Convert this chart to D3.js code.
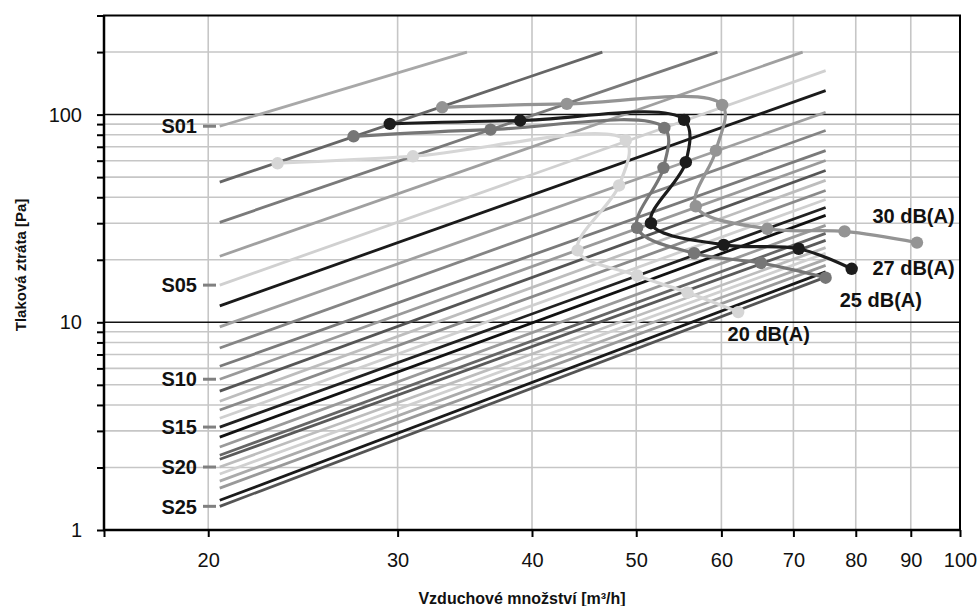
<!DOCTYPE html>
<html>
<head>
<meta charset="utf-8">
<script src="https://cdn.jsdelivr.net/npm/d3@7/dist/d3.min.js"></script>
<style>
  html, body { margin: 0; padding: 0; background: #fff; }
  svg { display: block; font-family: "Liberation Sans", Arial, sans-serif; }
</style>
</head>
<body>
<svg id="chart" width="978" height="606"></svg>
<script>
// ---------- data ----------
const xTickValues = [20, 30, 40, 50, 60, 70, 80, 90, 100];
const yLabelValues = [1, 10, 100];
const yMinorValues = [2, 3, 4, 5, 6, 7, 8, 9, 20, 30, 40, 50, 60, 70, 80, 90, 200];
const yMajorValues = [10, 100];

// settings lines S01..S25 (airflow m3/h, pressure Pa)
const settingNames = ["S01","S02","S03","S04","S05","S06","S07","S08","S09","S10",
  "S11","S12","S13","S14","S15","S16","S17","S18","S19","S20","S21","S22","S23","S24","S25"];
const settingLabelled = ["S01","S05","S10","S15","S20","S25"];
const settingStartQ = [20.5,20.5,20.5,20.5,20.5,20.5,20.5,20.5,20.5,20.5,20.5,20.5,20.5,
  20.5,20.5,20.5,20.5,20.5,20.5,20.5,20.5,20.5,20.5,20.5,20.5];
const settingStartP = [87.9,47.3,30.3,20.8,15.1,12.0,9.5,7.52,6.14,5.32,4.66,4.17,3.78,
  3.45,3.13,2.80,2.51,2.29,2.19,2.01,1.86,1.72,1.59,1.39,1.30];
const settingEndQ = [34.8,46.5,59.5,71.4,75,75,75,75,75,75,75,75,75,75,75,75,75,75,75,75,75,75,75,75,75];
const settingEndP = [200,200,200,200,162.7,130.4,102.6,83.8,67.1,60.1,53.8,48.2,43.1,
  39.0,35.7,32.7,29.3,26.8,24.8,22.9,21.5,20.1,18.8,17.5,16.5];

// noise curves
const noiseNames = ["30 dB(A)", "27 dB(A)", "25 dB(A)", "20 dB(A)"];
const noise30Q = [33.0, 43.1, 60.1, 59.3, 56.8, 66.2, 78.1, 91.2];
const noise30P = [108.4, 112.6, 111.3, 67.1, 36.2, 28.2, 27.4, 24.2];
const noise27Q = [29.5, 39.0, 55.4, 55.6, 51.6, 60.3, 70.8, 79.3];
const noise27P = [90.2, 93.6, 94.3, 59.0, 30.0, 23.6, 22.6, 18.1];
const noise25Q = [27.3, 36.6, 53.1, 53.0, 50.1, 56.6, 65.3, 75.0];
const noise25P = [78.6, 84.7, 86.3, 55.4, 28.5, 21.5, 19.3, 16.4];
const noise20Q = [23.2, 31.0, 48.9, 48.2, 44.1, 50.1, 55.8, 62.2];
const noise20P = [58.3, 63.0, 75.2, 45.6, 22.2, 16.8, 13.9, 11.2];
const noiseLabelQ = [82.9, 82.9, 77.3, 60.8];
const noiseLabelP = [32.7, 18.2, 12.9, 8.85];

// ---------- styles ----------
const settingColors = ["#a8a8a8","#666666","#7a7a7a","#a0a0a0","#d0d0d0","#1a1a1a","#a0a0a0",
  "#858585","#7a7a7a","#9a9a9a","#555555","#bdbdbd","#8a8a8a","#cfcfcf","#222222","#111111",
  "#9a9a9a","#666666","#5a5a5a","#bdbdbd","#d0d0d0","#ababab","#999999","#1a1a1a","#555555"];
const noiseColors = ["#949494", "#1c1c1c", "#767676", "#d6d6d6"];

// ---------- scales ----------
const svg = d3.select("#chart");
svg.append("rect").attr("width", 978).attr("height", 606).attr("fill", "#fff");

const x = d3.scaleLog().domain([16, 100]).range([104, 960]);
const y = d3.scaleLog().domain([1, 300]).range([530, 15.5]);
const L = 104, R = 960, T = 15.5, B = 530;

// grid
const grid = svg.append("g");
grid.selectAll(".vg").data(xTickValues.slice(0, -1)).enter().append("line")
  .attr("x1", d => x(d)).attr("x2", d => x(d)).attr("y1", T).attr("y2", B)
  .attr("stroke", "#c6c6c6").attr("stroke-width", 1.6);
grid.selectAll(".hg").data(yMinorValues).enter().append("line")
  .attr("x1", L).attr("x2", R).attr("y1", d => y(d)).attr("y2", d => y(d))
  .attr("stroke", "#c6c6c6").attr("stroke-width", 1.6);
grid.selectAll(".hm").data(yMajorValues).enter().append("line")
  .attr("x1", L).attr("x2", R).attr("y1", d => y(d)).attr("y2", d => y(d))
  .attr("stroke", "#111").attr("stroke-width", 1.5);

// axes
const yAxis = d3.axisLeft(y)
  .tickValues([1, ...yMinorValues, 10, 100, 300])
  .tickSize(7).tickPadding(15)
  .tickFormat(d => yLabelValues.includes(d) ? String(d) : "");
const gy = svg.append("g").attr("transform", `translate(${L},0)`).call(yAxis);
const xAxis = d3.axisBottom(x)
  .tickValues([16, ...xTickValues])
  .tickSize(7).tickPadding(16)
  .tickFormat(d => xTickValues.includes(d) ? String(d) : "");
const gx = svg.append("g").attr("transform", `translate(0,${B})`).call(xAxis);
[gx, gy].forEach(g => {
  g.select(".domain").remove();
  g.selectAll(".tick line").attr("stroke", "#000").attr("stroke-width", 2);
  g.selectAll("text").attr("font-size", 20).attr("fill", "#111")
    .attr("font-family", "'Liberation Sans', Arial, sans-serif");
});

// frame
svg.append("rect").attr("x", L).attr("y", T).attr("width", R - L).attr("height", B - T)
  .attr("fill", "none").attr("stroke", "#000").attr("stroke-width", 2);
svg.append("line").attr("x1", L).attr("x2", L).attr("y1", T).attr("y2", B + 1)
  .attr("stroke", "#000").attr("stroke-width", 2.5);
svg.append("line").attr("x1", L - 1).attr("x2", R).attr("y1", B).attr("y2", B)
  .attr("stroke", "#000").attr("stroke-width", 2.5);

// setting lines
const settings = settingNames.map((n, i) => ({
  name: n, color: settingColors[i],
  pts: [[settingStartQ[i], settingStartP[i]], [settingEndQ[i], settingEndP[i]]]
}));
const lineGen = d3.line().x(d => x(d[0])).y(d => y(d[1]));
svg.append("g").selectAll("path").data(settings).enter().append("path")
  .attr("d", d => lineGen(d.pts))
  .attr("fill", "none").attr("stroke", d => d.color).attr("stroke-width", 2.8);

// setting labels
const labelled = settings.filter(s => settingLabelled.includes(s.name));
const sl = svg.append("g");
sl.selectAll("line").data(labelled).enter().append("line")
  .attr("x1", 203).attr("x2", 216)
  .attr("y1", d => y(d.pts[0][1])).attr("y2", d => y(d.pts[0][1]))
  .attr("stroke", "#808080").attr("stroke-width", 3);
sl.selectAll("text").data(labelled).enter().append("text")
  .attr("x", 197).attr("y", d => y(d.pts[0][1]))
  .attr("dy", "0.36em").attr("text-anchor", "end")
  .attr("font-size", 20).attr("font-weight", "bold").attr("fill", "#111")
  .text(d => d.name);

// noise curves
const noiseQ = [noise30Q, noise27Q, noise25Q, noise20Q];
const noiseP = [noise30P, noise27P, noise25P, noise20P];
const noise = noiseNames.map((n, i) => ({
  name: n, color: noiseColors[i],
  pts: noiseQ[i].map((q, j) => [q, noiseP[i][j]]),
  lq: noiseLabelQ[i], lp: noiseLabelP[i]
}));
const curveGen = d3.line().x(d => x(d[0])).y(d => y(d[1])).curve(d3.curveCatmullRom.alpha(0.5));
const ng = svg.append("g");
// draw from back: 20, 25, 30, 27 order similar to reference
const drawOrder = [3, 2, 0, 1];
drawOrder.forEach(i => {
  const s = noise[i];
  const g = ng.append("g");
  g.append("path").attr("d", curveGen(s.pts)).attr("fill", "none")
    .attr("stroke", s.color).attr("stroke-width", 3.2);
  g.selectAll("circle").data(s.pts).enter().append("circle")
    .attr("cx", d => x(d[0])).attr("cy", d => y(d[1])).attr("r", 6.2)
    .attr("fill", s.color);
});
ng.selectAll("text").data(noise).enter().append("text")
  .attr("x", d => x(d.lq)).attr("y", d => y(d.lp)).attr("dy", "0.36em")
  .attr("font-size", 20).attr("font-weight", "bold").attr("fill", "#111")
  .text(d => d.name);

// axis titles
svg.append("text").attr("transform", "translate(26,265) rotate(-90)")
  .attr("text-anchor", "middle").attr("font-size", 15).attr("font-weight", "bold")
  .attr("fill", "#111").text("Tlaková ztráta [Pa]");
svg.append("text").attr("x", 522).attr("y", 604)
  .attr("text-anchor", "middle").attr("font-size", 16).attr("font-weight", "bold")
  .attr("fill", "#111").text("Vzduchové množství [m³/h]");
</script>
</body>
</html>
